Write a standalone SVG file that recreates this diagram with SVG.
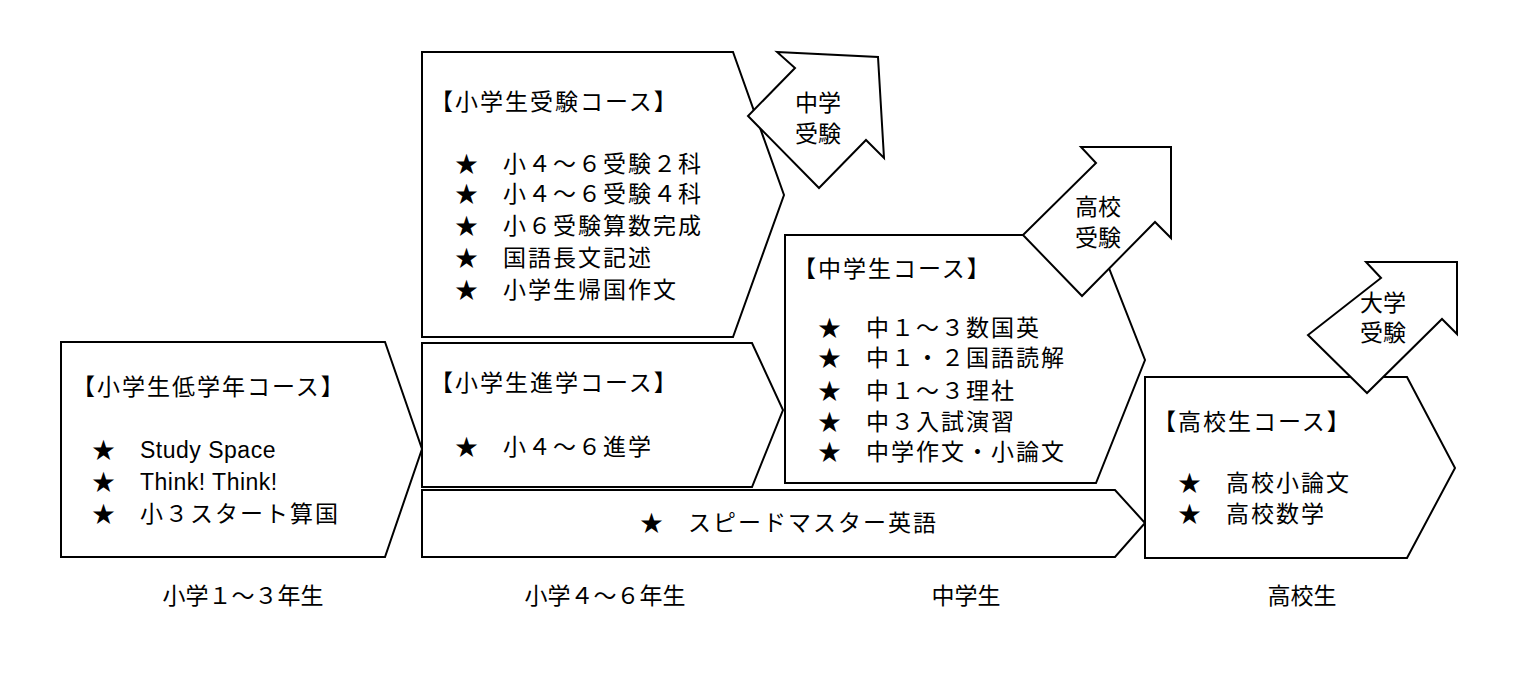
<svg xmlns="http://www.w3.org/2000/svg" width="1522" height="691" viewBox="0 0 1522 691">
<style>
.s{fill:#fff;stroke:#000;stroke-width:2}
text{font-family:"Noto Sans CJK JP","Noto Sans CJK SC",sans-serif;font-size:23px;fill:#000;letter-spacing:2px}
.c{text-anchor:middle;letter-spacing:0}
</style>
<rect width="1522" height="691" fill="#fff"/>
<g id="p0"><polygon class="s" points="61,342 385,342 422,449 385,557 61,557"/>
<text x="72" y="395">【小学生低学年コース】</text>
<text x="92" y="458">★</text><text x="140" y="458" style="font-family:'Liberation Sans',sans-serif;letter-spacing:0.5px">Study Space</text>
<text x="92" y="490">★</text><text x="140" y="490" style="font-family:'Liberation Sans',sans-serif;letter-spacing:0.5px">Think! Think!</text>
<text x="92" y="522">★</text><text x="140" y="522">小３スタート算国</text></g>
<g id="p1"><polygon class="s" points="422,52 733,52 784,195 733,337 422,337"/>
<text x="430" y="110">【小学生受験コース】</text>
<text x="455" y="172">★</text><text x="503" y="172">小４～６受験２科</text>
<text x="455" y="202">★</text><text x="503" y="202">小４～６受験４科</text>
<text x="455" y="234">★</text><text x="503" y="234">小６受験算数完成</text>
<text x="455" y="266">★</text><text x="503" y="266">国語長文記述</text>
<text x="455" y="298">★</text><text x="503" y="298">小学生帰国作文</text></g>
<g id="a1"><polygon class="s" points="777,52 878,57 884,158 866,140 819,188 748,116 795,68"/>
<text class="c" x="818" y="111">中学</text><text class="c" x="818" y="142">受験</text></g>
<g id="p2"><polygon class="s" points="422,343 752,343 783,410 752,487 422,487"/>
<text x="430" y="391">【小学生進学コース】</text>
<text x="455" y="455">★</text><text x="503" y="455">小４～６進学</text></g>
<g id="p3"><polygon class="s" points="785,235 1096,235 1145,360 1096,483 785,483"/>
<text x="793" y="277">【中学生コース】</text>
<text x="818" y="336">★</text><text x="866" y="336">中１～３数国英</text>
<text x="818" y="366">★</text><text x="866" y="366">中１・２国語読解</text>
<text x="818" y="399">★</text><text x="866" y="399">中１～３理社</text>
<text x="818" y="430">★</text><text x="866" y="430">中３入試演習</text>
<text x="818" y="460">★</text><text x="866" y="460">中学作文・小論文</text></g>
<g id="a2"><polygon class="s" points="1081,147 1171,147 1171,238 1155,222 1082,296 1023,235 1096,163"/>
<text class="c" x="1098" y="215">高校</text><text class="c" x="1098" y="246">受験</text></g>
<g id="p4"><polygon class="s" points="422,490 1115,490 1145,523 1115,557 422,557"/>
<text x="640" y="531">★</text><text x="688" y="531">スピードマスター英語</text></g>
<g id="p5"><polygon class="s" points="1145,377 1407,377 1455,468 1407,558 1145,558"/>
<text x="1153" y="430">【高校生コース】</text>
<text x="1178" y="491">★</text><text x="1226" y="491">高校小論文</text>
<text x="1178" y="522">★</text><text x="1226" y="522">高校数学</text></g>
<g id="a3"><polygon class="s" points="1366,262 1457,262 1457,334 1442,319 1367,393 1308,335 1381,278"/>
<text class="c" x="1383" y="311">大学</text><text class="c" x="1383" y="341">受験</text></g>
<g id="labels">
<text class="c" x="243" y="604">小学１～３年生</text>
<text class="c" x="605" y="604">小学４～６年生</text>
<text class="c" x="966" y="604">中学生</text>
<text class="c" x="1302" y="604">高校生</text></g>
<g id="connectors"/>
</svg>
